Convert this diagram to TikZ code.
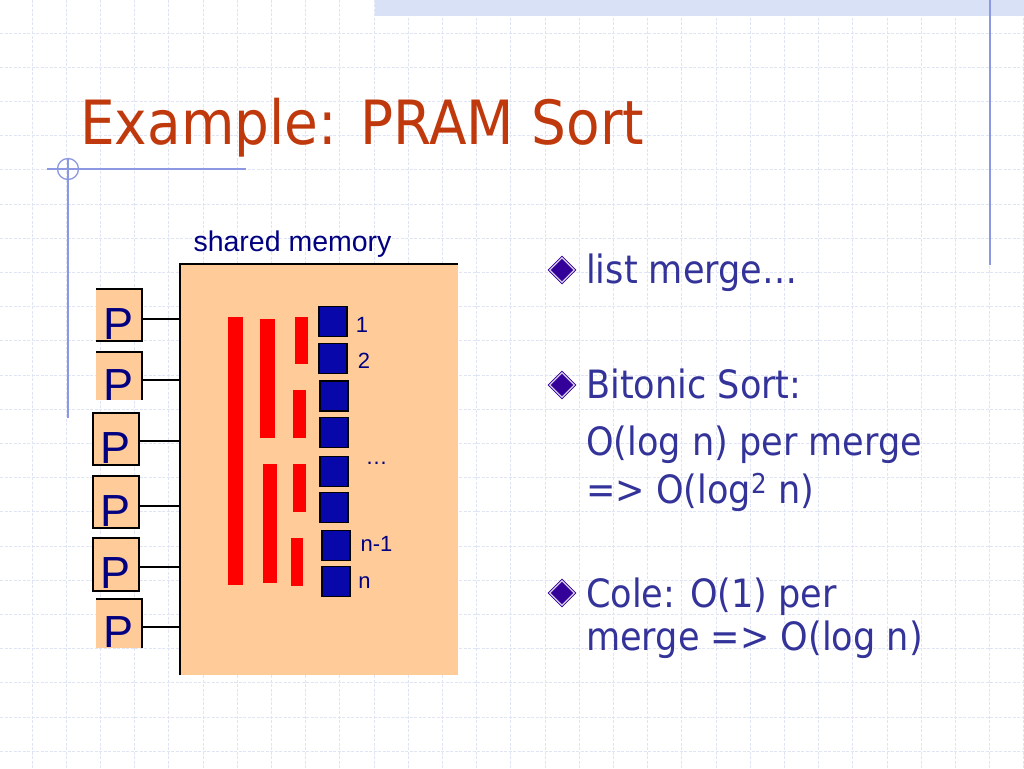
\documentclass[tikz,border=0pt]{standalone}
\usepackage{fontspec}
\usetikzlibrary{shapes.geometric}
\newfontfamily\arialfont{Liberation Sans}
\newfontfamily\tahomafont[FakeStretch=0.9]{DejaVu Sans}

\definecolor{peach}{RGB}{255,204,153}
\definecolor{navy}{RGB}{0,0,128}
\definecolor{titlered}{RGB}{192,57,12}
\definecolor{bodyblue}{RGB}{51,51,153}
\definecolor{bulletblue}{RGB}{51,0,153}
\definecolor{gridblue}{RGB}{224,229,245}
\definecolor{decoblue}{RGB}{140,152,225}
\definecolor{bandblue}{RGB}{217,225,247}
\definecolor{cellblue}{RGB}{8,8,170}

\tikzstyle{pbox}=[fill=peach,minimum width=46pt,inner sep=0pt,text height=48pt,text depth=0pt,font=\arialfont\fontsize{45}{45}\selectfont,text=navy]
\tikzstyle{pwire}=[draw,line width=1.5pt,-]
\tikzstyle{memcell}=[draw=black,fill=cellblue,line width=1.6pt,minimum width=28pt,minimum height=30pt,inner sep=0pt]
\tikzstyle{cellnum}=[anchor=base,inner sep=0pt,font=\arialfont\fontsize{22}{22}\selectfont,text=navy]
\tikzstyle{mergebar}=[fill=red]
\tikzstyle{bulletmark}=[diamond,fill=bulletblue,draw=bulletblue,double=white!80!bulletblue,double distance=1.2pt,line width=0.9pt,minimum size=25pt,inner sep=0pt]
\tikzstyle{bodytext}=[anchor=base west,inner sep=0pt,font=\tahomafont\fontsize{39}{39}\selectfont,text=bodyblue]
\tikzstyle{decoline}=[draw=decoblue,line width=1.3pt]
\tikzstyle{gridline}=[draw=gridblue,line width=0.8pt,dash pattern=on 3pt off 1.5pt]
\newcommand{\gridstep}{34.2}

\begin{document}
\begin{tikzpicture}[x=1pt,y=-1pt]
    % First the slide background: grid, band and the thin blue rules
    \useasboundingbox (0,0) rectangle (1024,768);
    \fill[white] (0,0) rectangle (1024,768);
    \foreach \k in {0,...,29}
        \path[gridline] ({32+\k*\gridstep},0) -- ({32+\k*\gridstep},768);
    \foreach \k in {1,...,22}
        \path[gridline] (0,{-1.2+\k*\gridstep}) -- (1024,{-1.2+\k*\gridstep});
    \fill[bandblue] (375,0) rectangle (1024,16);
    \path[decoline] (990,0) -- (990,265);
    \path[decoline] (47,169) -- (246,169);
    \path[decoline] (68,159) -- (68,418);
    \path[decoline] (68,169) circle[radius=10.5];

    % Title
    \node[anchor=base west,inner sep=0pt,text=titlered,font=\tahomafont\fontsize{61}{61}\selectfont] (title) at (80,144) {Example: PRAM Sort};

    % Shared memory block, open on the right and at the bottom
    \node[fill=peach,minimum width=278pt,minimum height=411pt,inner sep=0pt] (mem) at (319,469.5) {};
    \draw[line width=1.5pt] (mem.south west) -- (mem.north west) -- (mem.north east);
    \node[anchor=base,inner sep=0pt,font=\arialfont\fontsize{28.5}{28.5}\selectfont,text=navy] (memlabel) at (292.5,251) {shared memory};

    % Processors
    \foreach \pos/\name/\h in {{(119,315)/p1/52}, {(119,376)/p2/48}, {(116,439)/p3/52}, {(116,502)/p4/52}, {(116,564.5)/p5/53}, {(119,623.5)/p6/49}}
        \node[pbox,minimum height=\h pt] (\name) at \pos {P};
    \draw[line width=1.5pt] (p1.north west) -- (p1.north east) -- (p1.south east) -- (p1.south west);
    \draw[line width=1.5pt] (p2.north west) -- (p2.north east) -- (p2.south east);
    \foreach \name in {p3,p4,p5}
        \draw[line width=1.5pt] (\name.north west) rectangle (\name.south east);
    \draw[line width=1.5pt] (p6.north west) -- (p6.north east) -- (p6.south east);
    % Wires from the processors to the memory
    \foreach \name/\wy in {p1/319,p2/380,p3/441,p4/506,p5/567,p6/627}
        \path[pwire] (\name.east |- 0,\wy) -- (mem.west |- 0,\wy);

    % Merge stages
    \foreach \xa/\ya/\xb/\yb in {228/317/243/585, 260/319/275/438, 263/464/277/583, 295/317/308/364, 293/390/306/438, 293/464/306/512, 291/538/303/586}
        \fill[mergebar] (\xa,\ya) rectangle (\xb,\yb);

    % Memory cells and their numbers
    \foreach \pos/\name in {{(333,321.5)/c1}, {(333,358.5)/c2}, {(334,396)/c3}, {(334,432.5)/c4}, {(334,471.5)/c5}, {(334,507.5)/c6}, {(336,545.5)/c7}, {(336,581.5)/c8}}
        \node[memcell] (\name) at \pos {};
    \foreach \pos/\name/\txt in {{(362,332)/n1/1}, {(364,368)/n2/2}, {(376.5,464)/ndots/\ldots}, {(376.5,551)/nlast1/n-1}, {(364.5,588)/nlast/n}}
        \node[cellnum] (\name) at \pos {\txt};

    % Bullets on the right
    \foreach \pos/\name in {{(562,270)/b1}, {(562,385)/b2}, {(562,593)/b3}}
        \node[bulletmark] (\name) at \pos {};
    \node[bodytext] (t1) at (586,283) {list merge…};
    \node[bodytext] (t2) at (586,398) {Bitonic Sort:};
    \node[bodytext] (t3) at (586,455) {O(log n) per merge};
    \node[bodytext] (t4) at (586,503) {=> O(log\textsuperscript{2} n)};
    \node[bodytext] (t5) at (586,607) {Cole: O(1) per};
    \node[bodytext] (t6) at (586,650) {merge => O(log n)};
\end{tikzpicture}
\end{document}
